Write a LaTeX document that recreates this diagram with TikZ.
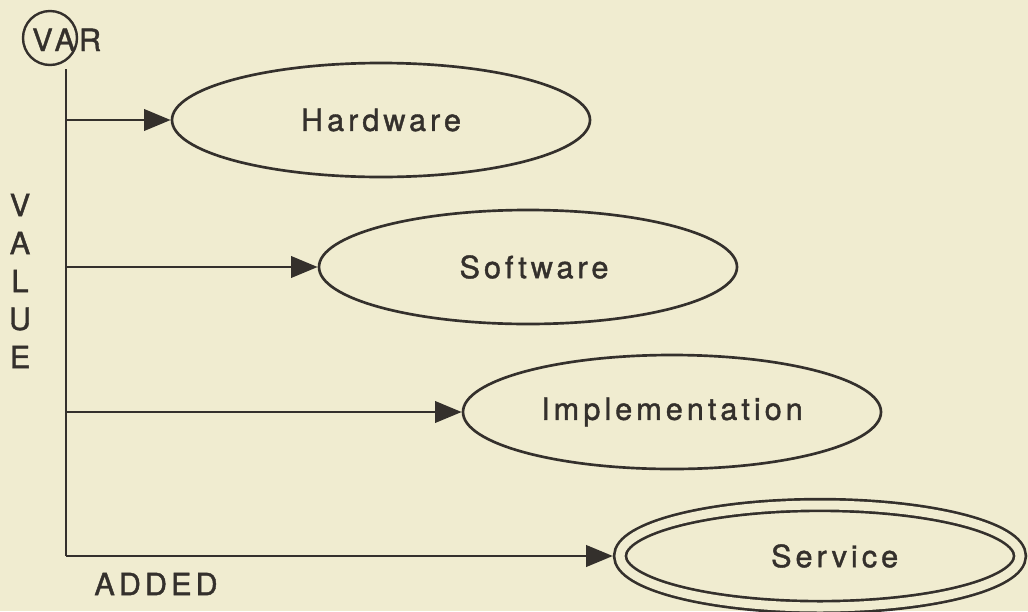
\documentclass[tikz,border=0pt]{standalone}
\usepackage{fontspec}
\usetikzlibrary{arrows.meta, shapes.geometric}
\newfontfamily\lbl[LetterSpace=13, FakeBold=1.3]{TeX Gyre Heros}
\definecolor{paper}{RGB}{240,236,208}
\definecolor{ink}{RGB}{52,48,44}

\begin{document}
\begin{tikzpicture}
  [x=0.75pt, y=-0.75pt, >={Triangle[length=20pt, width=16pt]},
   every node/.style={text=ink, font=\lbl\fontsize{23}{28}\selectfont},
   item/.style={ellipse, draw=ink, line width=2pt, minimum width=313.5pt,
                minimum height=85.5pt, inner sep=0pt},
   link/.style={draw=ink, line width=2.2pt}]
  \fill[paper] (0,0) rectangle (1028,611);
  \useasboundingbox (0,0) rectangle (1028,611);
  % the VAR mark
  \node (var) at (50,38) [circle, draw=ink, line width=1.8pt,
                          minimum size=40.5pt, inner sep=0pt] {};
  \node (vartext) at (32,51) [anchor=base west, inner sep=0pt] {VAR};
  % the four stages
  \node (hw) at (381,120) [item] {Hardware};
  \node (sw) at (528,267) [item] {\hspace*{9pt}Software};
  \node (im) at (672,412) [item] {Implementation};
  \node (svc) at (820,556) [item, double=paper, double distance=6.75pt,
                            minimum width=300pt, minimum height=76.5pt,
                            outer sep=5.4pt] {\hspace*{22pt}Service};
  % axis and branches
  \coordinate (top) at (66,69);
  \coordinate (corner) at (66,556);
  \draw [link] (top) -- (corner);
  \foreach \n in {hw, sw, im}
    \draw [link, ->] (top |- \n) -- (\n);
  \draw [link, ->] (corner) -- (svc);
  % axis labels
  \foreach \l [count=\i from 0] in {V, A, L, U, E}
    \node (value\i) at (20, {205+38*\i}) {\l};
  \node (added) at (156,584) {ADDED};
\end{tikzpicture}
\end{document}
